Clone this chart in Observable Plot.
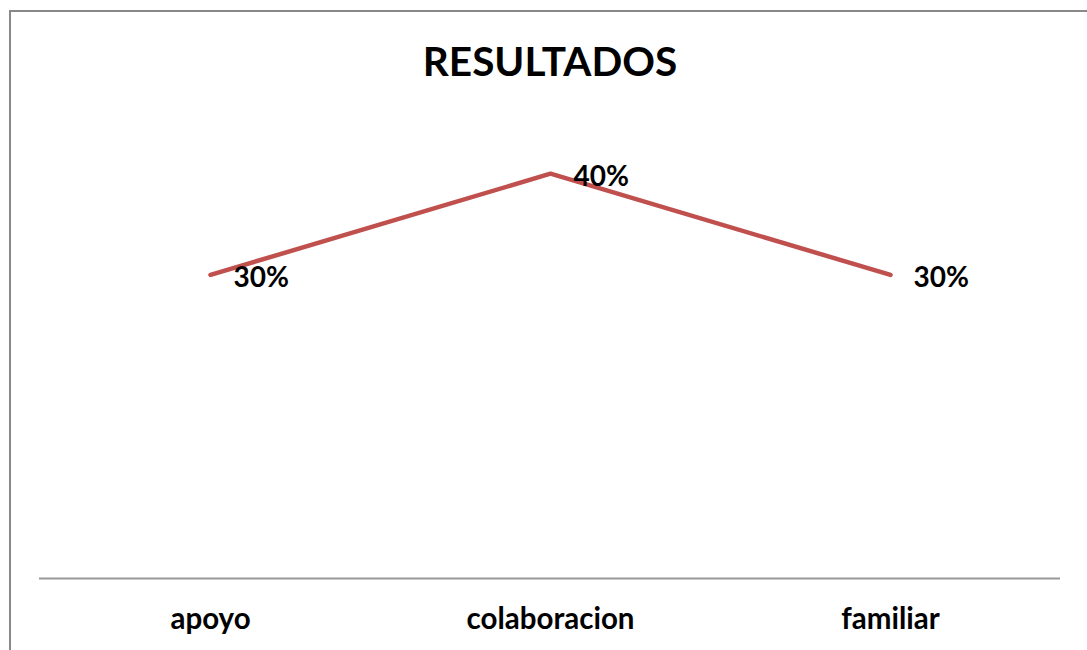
<!DOCTYPE html>
<html>
<head>
<meta charset="utf-8">
<script src="https://cdn.jsdelivr.net/npm/d3@7"></script>
<script src="https://cdn.jsdelivr.net/npm/@observablehq/plot@0.6"></script>
<style>
  html, body { margin: 0; padding: 0; background: #fff; overflow: hidden; }
  #wrap { position: relative; width: 1087px; height: 650px; font-family: Lato, "Open Sans", sans-serif; }
  #bl { position: absolute; left: 9px; top: 10px; width: 2px; height: 640px; background: #888; }
  #bt { position: absolute; left: 9px; top: 10px; width: 1078px; height: 2px; background: #888; }
  #title { position: absolute; left: 0; width: 1100px; top: 36px; text-align: center; font-weight: bold; font-size: 40.5px; color: #000; }
  #chart { position: absolute; left: 0; top: 0; }
</style>
</head>
<body>
<div id="wrap">
  <div id="chart"></div>
  <div id="bl"></div>
  <div id="bt"></div>
  <div id="title">RESULTADOS</div>
</div>
<script>
const categories = ["apoyo", "colaboracion", "familiar"];
const values = [0.30, 0.40, 0.30];
const valueLabels = ["30%", "40%", "30%"];

const data = categories.map((c, i) => ({ cat: c, v: values[i], label: valueLabels[i] }));

const plot = Plot.plot({
  width: 1087,
  height: 650,
  marginLeft: 39,
  marginRight: 27,
  marginTop: 72,
  marginBottom: 72,
  style: { fontFamily: "Lato, 'Open Sans', sans-serif", background: "transparent" },
  x: { type: "point", domain: categories, padding: 0.5, label: null },
  y: { domain: [0, 0.5], axis: null },
  marks: [
    Plot.ruleY([0], { stroke: "#999", strokeWidth: 2 }),
    Plot.axisX({ tickSize: 0, tickPadding: 30, fontSize: 29.5, fontWeight: "bold", fill: "#000", label: null }),
    Plot.line(data, { x: "cat", y: "v", stroke: "#C0504D", strokeWidth: 4.5, strokeLinecap: "round", strokeLinejoin: "miter" }),
    Plot.text(data, { x: "cat", y: "v", text: "label", textAnchor: "start", dx: 23, dy: 3, fontSize: 28, fontWeight: "bold", fill: "#000" })
  ]
});
document.getElementById("chart").appendChild(plot);
</script>
</body>
</html>
